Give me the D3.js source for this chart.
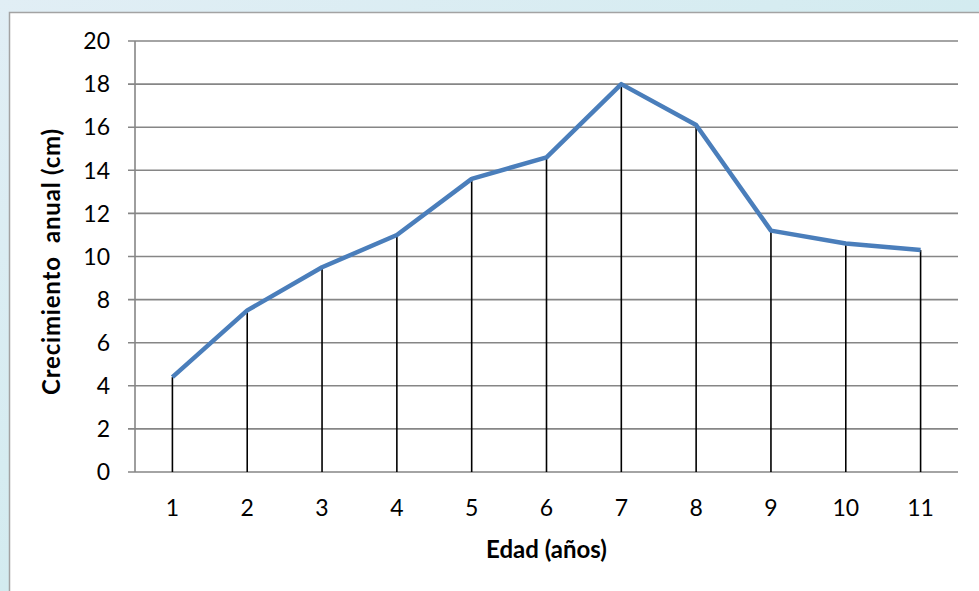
<!DOCTYPE html>
<html>
<head>
<meta charset="utf-8">
<script src="https://cdn.jsdelivr.net/npm/d3@7"></script>
<style>
  html, body { margin: 0; padding: 0; }
  body { width: 979px; height: 591px; overflow: hidden; }
  svg { display: block; }
</style>
</head>
<body>
<svg id="chart" width="979" height="591"></svg>
<script>
// Annual growth by age
const ages = ["1", "2", "3", "4", "5", "6", "7", "8", "9", "10", "11"];
const growth = [4.4, 7.5, 9.5, 11.0, 13.6, 14.6, 18.0, 16.1, 11.2, 10.6, 10.3];
const yTicks = [0, 2, 4, 6, 8, 10, 12, 14, 16, 18, 20];
const xTitle = "Edad (años)";
const yTitle = "Crecimiento  anual (cm)";

const W = 979, H = 591;
const margin = { left: 135, right: 21, top: 41, bottom: 119 };
const FONT = "Lato, 'Open Sans', sans-serif";

const svg = d3.select("#chart");
const defs = svg.append("defs");

// soft blue backdrop
const bg = defs.append("linearGradient").attr("id", "bg")
  .attr("x1", 0).attr("y1", 0).attr("x2", 1).attr("y2", 1);
bg.append("stop").attr("offset", "0%").attr("stop-color", "#e1eef5");
bg.append("stop").attr("offset", "40%").attr("stop-color", "#d6ecf1");
bg.append("stop").attr("offset", "100%").attr("stop-color", "#c4e6ea");
svg.append("rect").attr("width", W).attr("height", H).attr("fill", "url(#bg)");

// chart frame
svg.append("rect")
  .attr("x", 9.5).attr("y", 12.5)
  .attr("width", W + 10).attr("height", H + 10)
  .attr("fill", "#ffffff")
  .attr("stroke", "#a3a3a3").attr("stroke-width", 1.5);

const x = d3.scaleBand().domain(ages)
  .range([margin.left, W - margin.right]).padding(0);
const y = d3.scaleLinear().domain([0, 20])
  .range([H - margin.bottom, margin.top]);

const cx = d => x(d) + x.bandwidth() / 2;

// horizontal gridlines with left tick stubs
const grid = svg.append("g");
grid.selectAll("line").data(yTicks).join("line")
  .attr("x1", margin.left - 7).attr("x2", W - margin.right)
  .attr("y1", d => y(d)).attr("y2", d => y(d))
  .attr("stroke", "#868686").attr("stroke-width", 1.6);

// y axis line
svg.append("line")
  .attr("x1", margin.left).attr("x2", margin.left)
  .attr("y1", y(20)).attr("y2", y(0))
  .attr("stroke", "#868686").attr("stroke-width", 1.6);

// y tick labels
svg.append("g").selectAll("text").data(yTicks).join("text")
  .attr("x", margin.left - 25).attr("y", d => y(d))
  .attr("dy", "0.36em")
  .attr("text-anchor", "end")
  .attr("font-family", FONT).attr("font-size", 23).attr("fill", "#000")
  .text(d => d);

// x tick labels
svg.append("g").selectAll("text").data(ages).join("text")
  .attr("x", d => cx(d)).attr("y", y(0) + 36)
  .attr("dy", "0.36em")
  .attr("text-anchor", "middle")
  .attr("font-family", FONT).attr("font-size", 23).attr("fill", "#000")
  .text(d => d);

// drop lines from each point to the axis
svg.append("g").selectAll("line").data(ages).join("line")
  .attr("x1", d => cx(d)).attr("x2", d => cx(d))
  .attr("y1", (d, i) => y(growth[i])).attr("y2", y(0))
  .attr("stroke", "#000").attr("stroke-width", 1.6);

// growth line
const line = d3.line()
  .x((d, i) => cx(ages[i]))
  .y(d => y(d));
svg.append("path").datum(growth)
  .attr("d", line)
  .attr("fill", "none")
  .attr("stroke", "#4a7ebb").attr("stroke-width", 4.5)
  .attr("stroke-linejoin", "round");

// axis titles
svg.append("text")
  .attr("x", (margin.left + W - margin.right) / 2).attr("y", 550)
  .attr("dy", "0.35em").attr("text-anchor", "middle")
  .attr("font-family", FONT).attr("font-size", 24).attr("font-weight", "bold")
  .text(xTitle);

svg.append("text")
  .attr("transform", `translate(52, ${(y(0) + y(20)) / 2 + 5}) rotate(-90)`)
  .attr("dy", "0.35em").attr("text-anchor", "middle")
  .attr("font-family", FONT).attr("font-size", 24).attr("font-weight", "bold")
  .attr("letter-spacing", 0.8)
  .attr("xml:space", "preserve")
  .text(yTitle);
</script>
</body>
</html>
